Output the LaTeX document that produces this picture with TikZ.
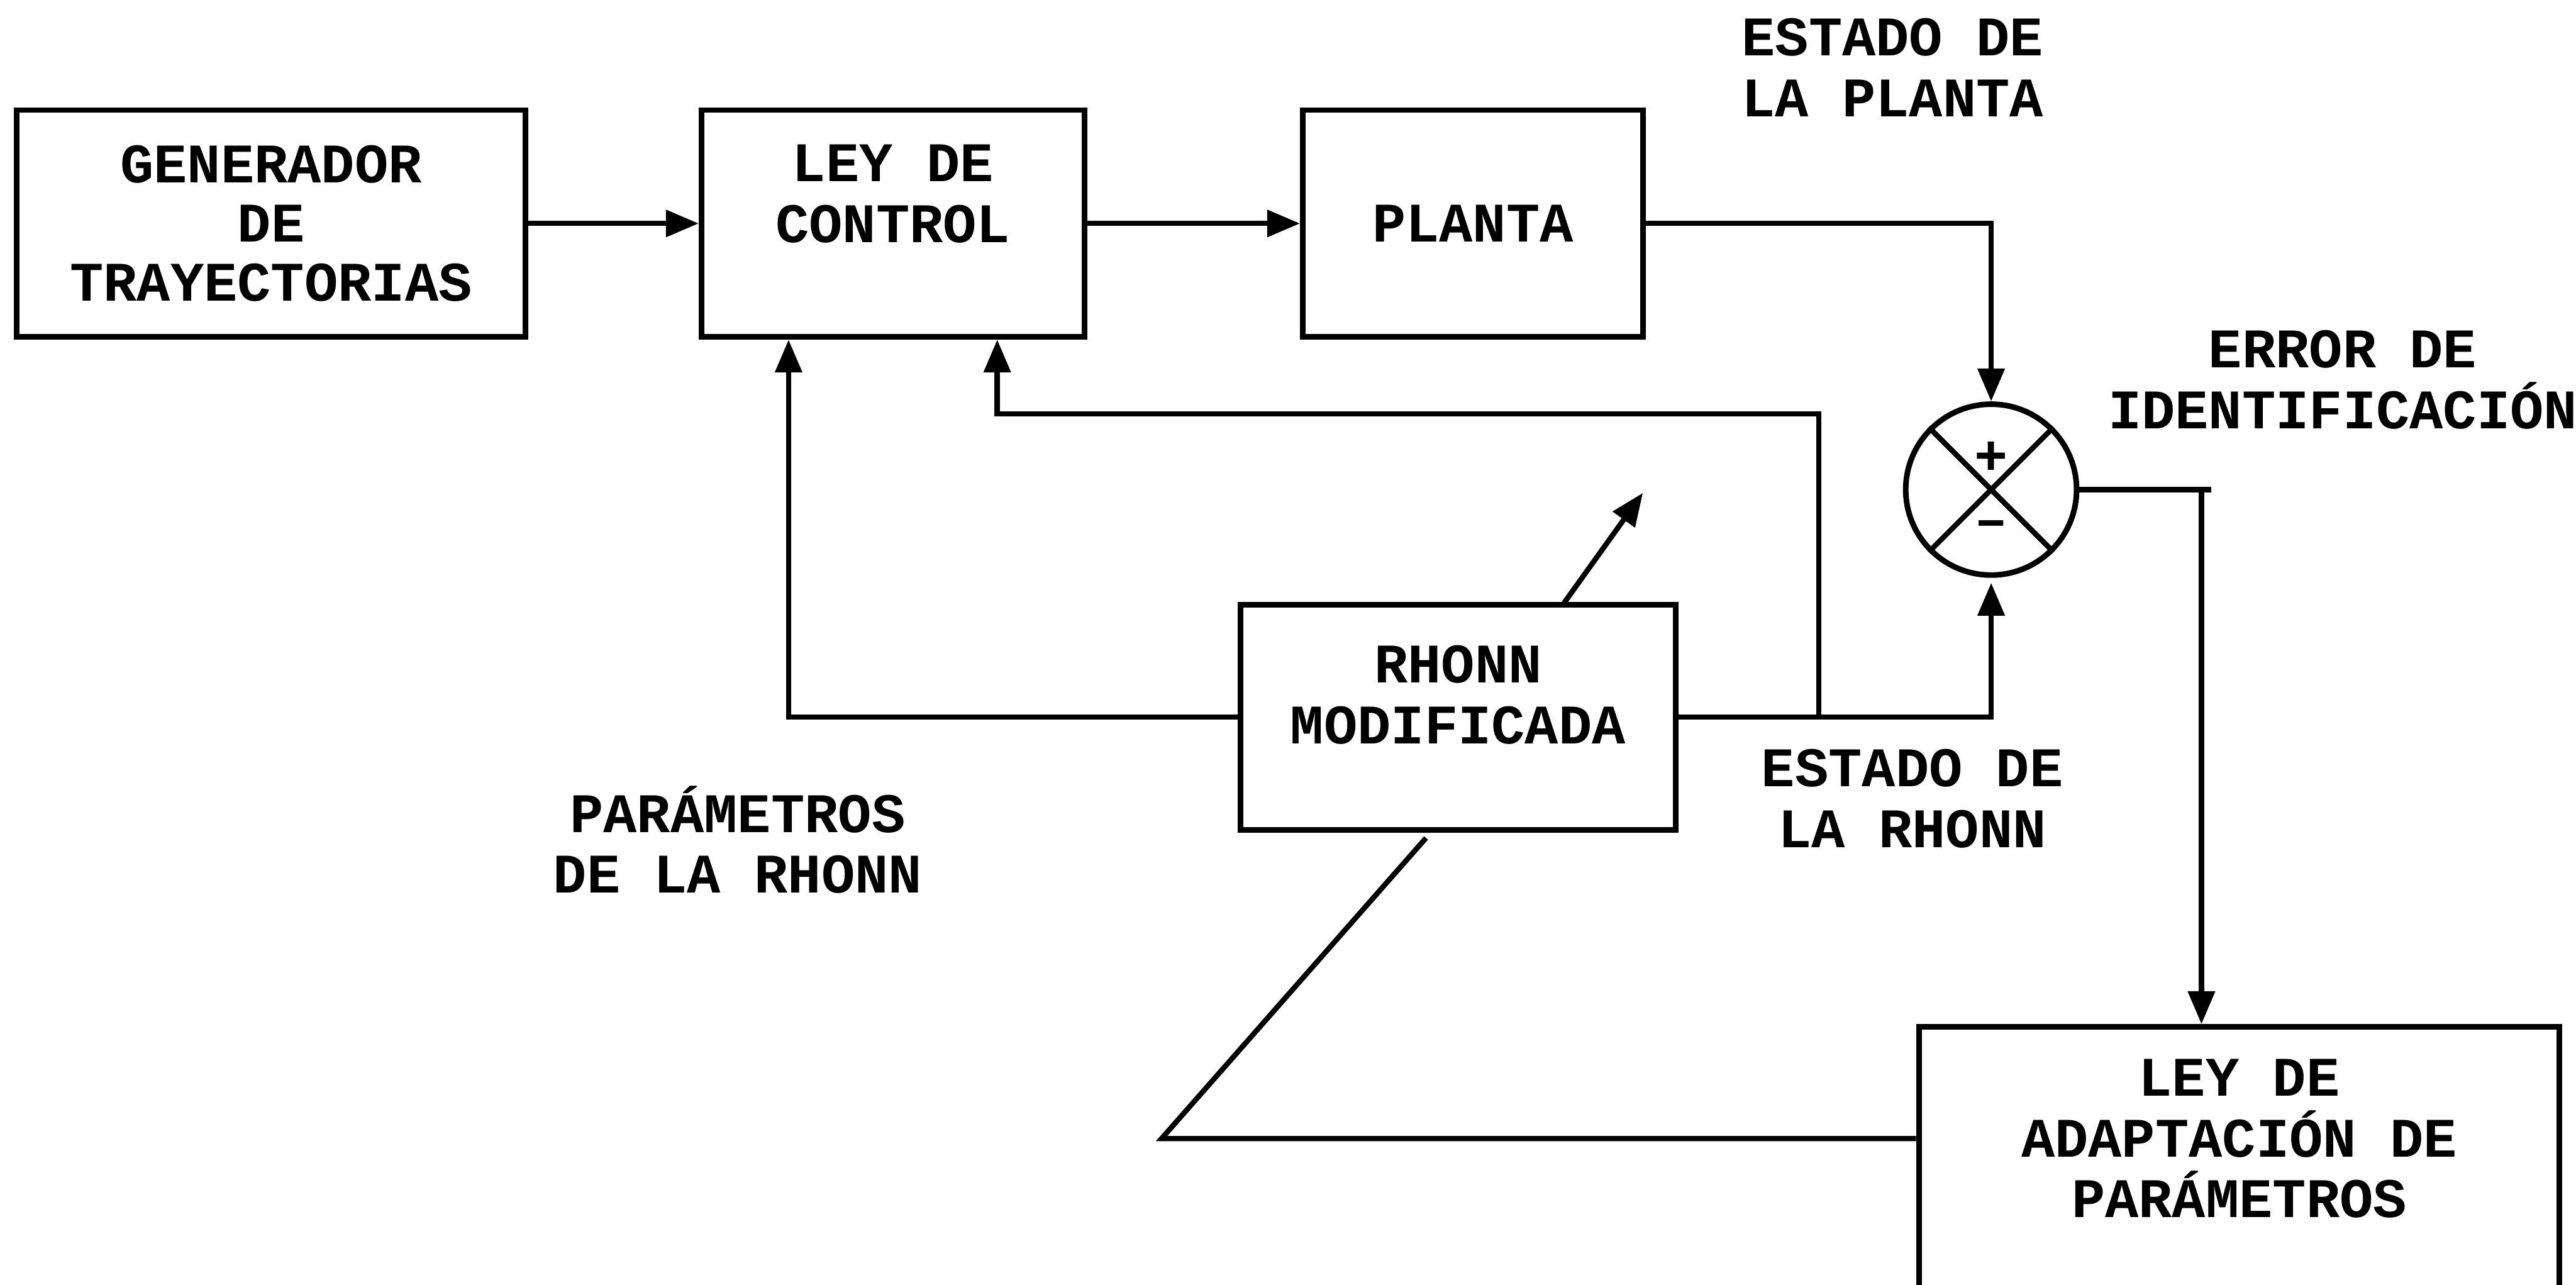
\documentclass[tikz,border=0pt]{standalone}
\usepackage{fontspec}
\setmainfont{Liberation Mono}
\usetikzlibrary{arrows.meta,calc}
\begin{document}
\begin{tikzpicture}[x=0.5pt,y=-0.5pt,
  blk/.style={draw,line width=1.7pt,inner sep=0pt,align=center,font=\fontsize{17}{18}\selectfont\bfseries},
  lbl/.style={inner sep=0pt,align=center,font=\fontsize{17}{18.5}\selectfont\bfseries},
  con/.style={line width=1.6pt},
  arr/.style={con,-{Triangle[length=10pt,width=8pt]}}]
\useasboundingbox (0,0) rectangle (1568,782);
\clip (0,0) rectangle (1568,782);
\node[blk,minimum width=155pt,minimum height=69pt] (gen) at (165,136) {GENERADOR\\DE\\TRAYECTORIAS};
\node[blk,minimum width=116.5pt,minimum height=69pt] (ley) at (543.5,136) {};
\node[lbl] (leytxt) at (543.5,118) {LEY DE\\CONTROL};
\node[blk,minimum width=103.5pt,minimum height=69pt] (planta) at (896.5,136) {PLANTA};
\node[blk,minimum width=132.5pt,minimum height=68.5pt] (rhonn) at (887.5,436.5) {};
\node[lbl] (rhonntxt) at (887.5,423) {RHONN\\MODIFICADA};
\node[draw,line width=1.7pt,minimum width=195pt,minimum height=100pt,inner sep=0pt] (adapt) at (1363,725) {};
\node[lbl] (adapttxt) at (1363,693) {LEY DE\\ADAPTACIÓN DE\\PARÁMETROS};
\node[draw,circle,line width=1.7pt,minimum size=52pt,inner sep=0pt] (sum) at (1212,298) {};
\draw[con] (sum.north west) -- (sum.south east) (sum.north east) -- (sum.south west);
\node[inner sep=0pt,font=\fontsize{17}{18}\selectfont\bfseries] (plus) at (1212,279) {+};
\node[inner sep=0pt,font=\fontsize{17}{18}\selectfont\bfseries] (minus) at (1212,322) {\textendash};
% labels
\node[lbl] (ep) at (1152,41) {ESTADO DE\\LA PLANTA};
\node[lbl] (ei) at (1426,231) {ERROR DE\\IDENTIFICACIÓN};
\node[lbl] (er) at (1164,486) {ESTADO DE\\LA RHONN};
\node[lbl] (pr) at (449,511) {PARÁMETROS\\DE LA RHONN};
% connectors
\coordinate (c1) at (1212,136);
\coordinate (j) at (1107,436.5);
\coordinate (j2) at (1107,252);
\coordinate (j3) at (607,252);
\coordinate (l1) at (480,436.5);
\coordinate (e1) at (1340,298);
\coordinate (e0) at (1346,298);
\coordinate (r1) at (1212,436.5);
\coordinate (d1) at (707,693);
\coordinate (d2) at (868,510);
\coordinate (diagtip) at (1000,300);
\coordinate (diagbase) at (952,367);
\draw[arr] (gen.east) -- (ley.west);
\draw[arr] (ley.east) -- (planta.west);
\draw[arr] (planta.east |- c1) -- (c1) -- (sum.north);
\draw[arr] (rhonn.east) -- (r1) -- ($(sum.south)+(0,3)$);
\draw[arr] (j) -- (j2) -- (j3) -- (j3 |- ley.south);
\draw[arr] (rhonn.west) -- (l1) -- (l1 |- ley.south);
\draw[con] (sum.east) -- (e0);
\draw[arr] (e1) -- (e1 |- adapt.north);
\draw[con] (adapt.west |- d1) -- (d1) -- (d2);
\draw[arr] (diagbase) -- (diagtip);
\end{tikzpicture}
\end{document}
